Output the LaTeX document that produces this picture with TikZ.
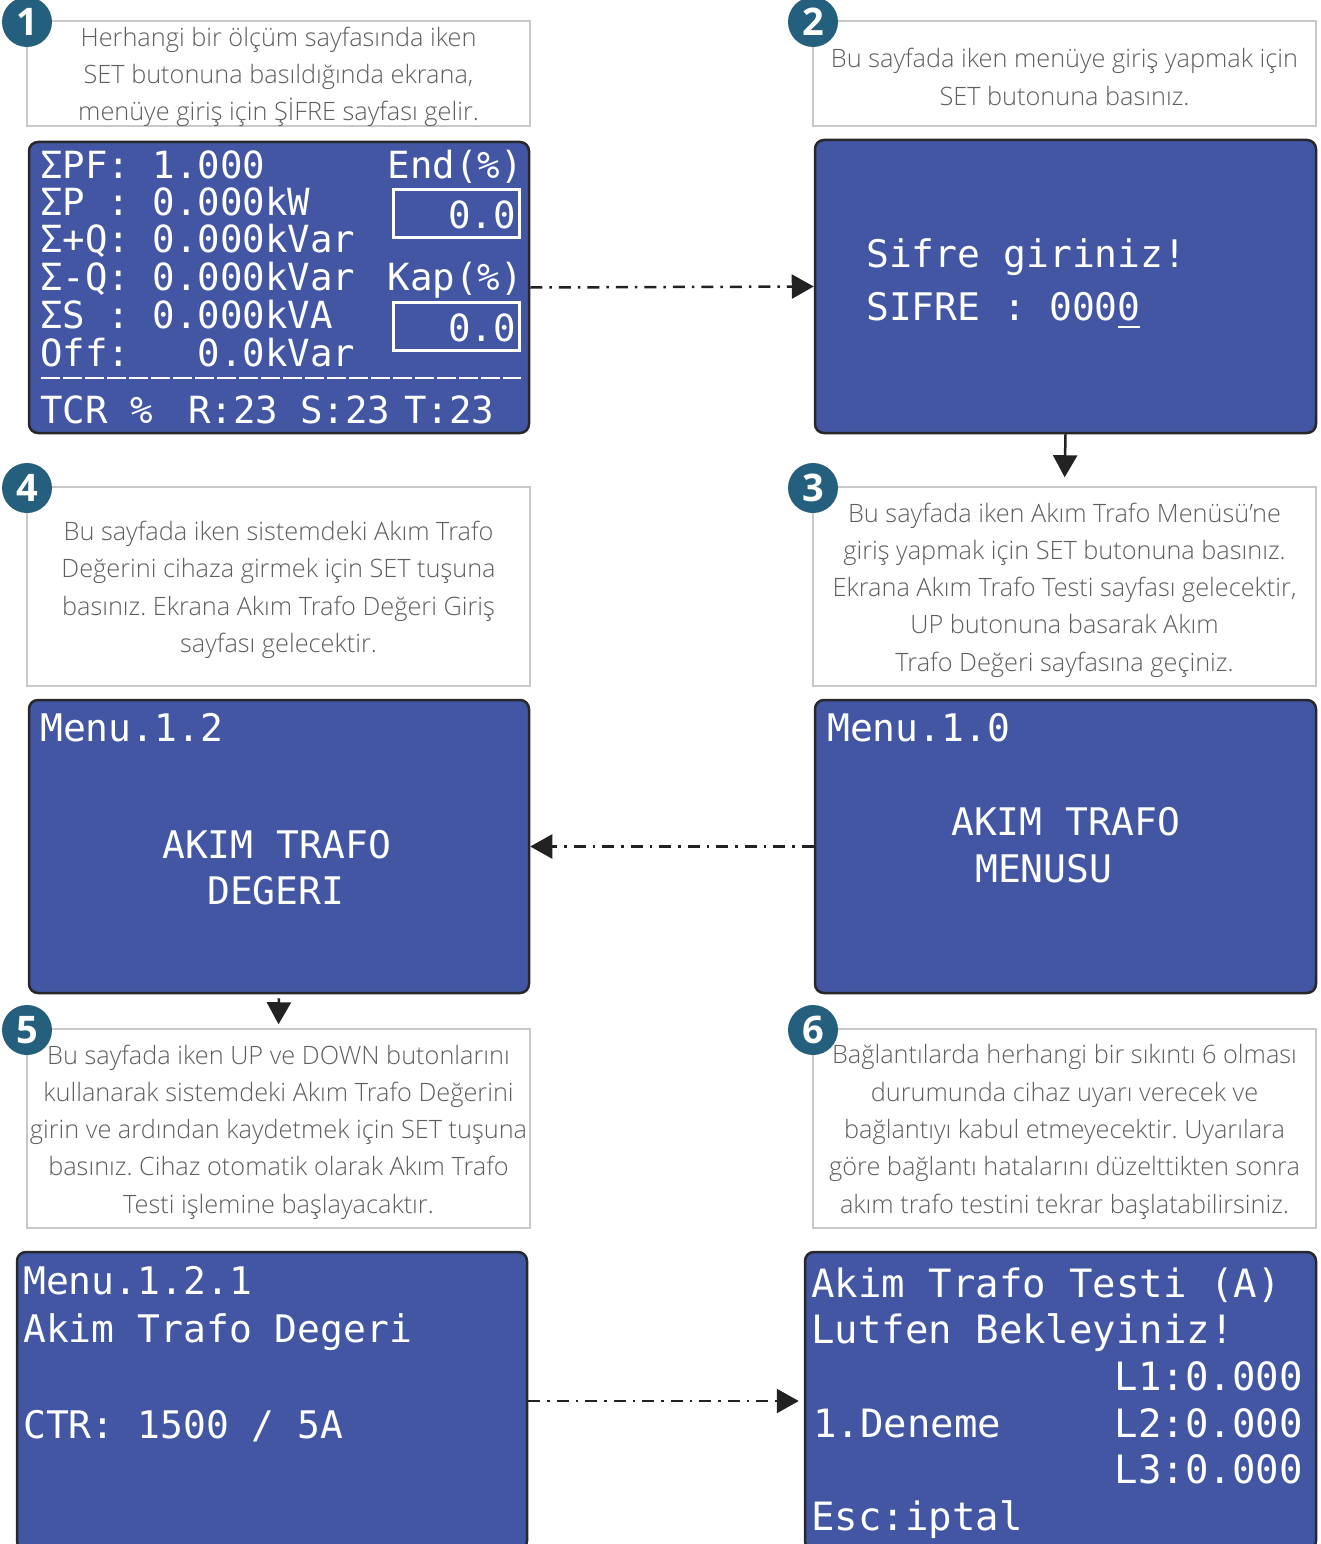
\documentclass[tikz,border=0pt]{standalone}
\usepackage{fontspec}
\setmainfont{Open Sans}[UprightFont=* Light, BoldFont=* Bold]
\newfontfamily\lcdfont{DejaVu Sans Mono}
\usetikzlibrary{arrows.meta}

\definecolor{lcdblue}{RGB}{66,86,164}
\definecolor{lcdedge}{RGB}{40,40,44}
\definecolor{badgeteal}{RGB}{36,96,125}
\definecolor{notegray}{RGB}{200,200,200}
\definecolor{textgray}{RGB}{95,95,95}
\definecolor{arrowink}{RGB}{34,34,34}

% blinking cursor under a digit
\newcommand\lcdcursor[1]{\rlap{\rule[-8pt]{22.5pt}{2.5pt}}#1}

\tikzset{
  note/.style={draw=notegray, line width=1.5pt, fill=white, inner sep=0pt,
    minimum width=503pt},
  notetext/.style={inner sep=0pt, align=center, text=textgray, yshift=-3.5pt,
    font=\frenchspacing\fontsize{25.3}{37.3}\selectfont},
  lcd/.style={draw=lcdedge, line width=2.5pt, fill=lcdblue,
    rounded corners=9pt, inner sep=0pt},
  lcdtxt/.style={text=white, inner sep=0pt, anchor=base west,
    font=\lcdfont\fontsize{38}{38}\selectfont},
  lcdsmall/.style={lcdtxt, font=\lcdfont\fontsize{37.4}{37.4}\selectfont},
  lcdbig/.style={lcdtxt, font=\lcdfont\fontsize{39}{39}\selectfont},
  valbox/.style={draw=white, line width=3pt, minimum width=126pt,
    minimum height=48pt, inner sep=0pt},
  badge/.style={circle, fill=badgeteal, text=white, minimum size=50pt,
    inner sep=0pt, font=\bfseries\fontsize{38}{38}\selectfont},
  flow/.style={draw=arrowink, line width=2.5pt,
    dash pattern=on 12pt off 7pt on 2.5pt off 7pt,
    -{Triangle[length=22pt,width=24pt]}},
  downflow/.style={draw=arrowink, line width=2.5pt,
    -{Triangle[length=22pt,width=24pt]}},
}

\begin{document}
\begin{tikzpicture}[x=1pt,y=-1pt]
\clip (0,0) rectangle (1321,1544);
\fill[white] (0,0) rectangle (1321,1544);

% ---------- step 1 ----------
\node[note, minimum height=105pt] (n1) at (278.5,73.5) {};
\node[notetext] (n1t) at (n1.center)
  {Herhangi bir ölçüm sayfasında iken\\SET butonuna basıldığında ekrana,\\menüye giriş için ŞİFRE sayfası gelir.};
\node[lcd, minimum width=500pt, minimum height=291pt] (s1) at (279,287.5) {};
\node[lcdsmall] (r1) at (40,178) {ΣPF: 1.000};
\node[lcdsmall] (r2) at (40,215) {ΣP : 0.000kW};
\node[lcdsmall] (r3) at (40,252) {Σ+Q: 0.000kVar};
\node[lcdsmall] (r4) at (40,290) {Σ-Q: 0.000kVar};
\node[lcdsmall] (r5) at (40,328) {ΣS : 0.000kVA};
\node[lcdsmall] (r6) at (40,366) {Off:\ \ \ 0.0kVar};
\node[lcdsmall, anchor=base east] (endl) at (523,178) {End(\%)};
\node[lcdsmall, anchor=base east] (kapl) at (523,290) {Kap(\%)};
\node[valbox] (vb1) at (456.5,213.5) {};
\node[valbox] (vb2) at (456.5,326.5) {};
\node[lcdsmall, anchor=base east] (v1) at (516,228) {0.0};
\node[lcdsmall, anchor=base east] (v2) at (516,341) {0.0};
\draw[white, line width=2.5pt, dash pattern=on 19pt off 3pt] (41,378) -- (521,378);
\node[lcdsmall] (t1) at (40,423) {TCR \%};
\node[lcdsmall] (t2) at (188,423) {R:23};
\node[lcdsmall] (t3) at (300,423) {S:23};
\node[lcdsmall] (t4) at (404,423) {T:23};

% ---------- step 2 ----------
\node[note, minimum height=105pt] (n2) at (1064.5,73.5) {};
\node[notetext] (n2t) at (n2.center)
  {Bu sayfada iken menüye giriş yapmak için\\SET butonuna basınız.};
\node[lcd, minimum width=501pt, minimum height=293pt] (s2) at (1065.5,286.5) {};
\node[lcdtxt] (pw1) at (866,267) {Sifre giriniz!};
\node[lcdtxt] (pw2) at (866,320) {SIFRE : 000\lcdcursor{0}};

% ---------- step 3 ----------
\node[note, minimum height=199pt] (n3) at (1064.5,586.5) {};
\node[notetext] (n3t) at (n3.center)
  {Bu sayfada iken Akım Trafo Menüsü’ne\\giriş yapmak için SET butonuna basınız.\\Ekrana Akım Trafo Testi sayfası gelecektir,\\UP butonuna basarak Akım\\Trafo Değeri sayfasına geçiniz.};
\node[lcd, minimum width=501pt, minimum height=293pt] (m10) at (1065.5,846.5) {};
\node[lcdtxt] (m10a) at (827,741) {Menu.1.0};
\node[lcdtxt] (m10b) at (951,835) {AKIM TRAFO};
\node[lcdtxt] (m10c) at (975,882) {MENUSU};

% ---------- step 4 ----------
\node[note, minimum height=199pt] (n4) at (278.5,586.5) {};
\node[notetext] (n4t) at (n4.center)
  {Bu sayfada iken sistemdeki Akım Trafo\\Değerini cihaza girmek için SET tuşuna\\basınız. Ekrana Akım Trafo Değeri Giriş\\sayfası gelecektir.};
\node[lcd, minimum width=500pt, minimum height=293pt] (m12) at (279,846.5) {};
\node[lcdtxt] (m12a) at (40,741) {Menu.1.2};
\node[lcdtxt] (m12b) at (162,858) {AKIM TRAFO};
\node[lcdtxt] (m12c) at (207,904) {DEGERI};

% ---------- step 5 ----------
\node[note, minimum height=199pt] (n5) at (278.5,1128.5) {};
\node[notetext] (n5t) at (n5.center)
  {Bu sayfada iken UP ve DOWN butonlarını\\kullanarak sistemdeki Akım Trafo Değerini\\girin ve ardından kaydetmek için SET tuşuna\\basınız. Cihaz otomatik olarak Akım Trafo\\Testi işlemine başlayacaktır.};
\node[lcd, minimum width=510pt, minimum height=298pt] (s5) at (272,1401) {};
\node[lcdtxt] (c1) at (23,1294) {Menu.1.2.1};
\node[lcdtxt] (c2) at (23,1342) {Akim Trafo Degeri};
\node[lcdtxt] (c3) at (23,1438) {CTR: 1500 / 5A};

% ---------- step 6 ----------
\node[note, minimum height=199pt] (n6) at (1064.5,1128.5) {};
\node[notetext] (n6t) at (n6.center)
  {Bağlantılarda herhangi bir sıkıntı 6 olması\\durumunda cihaz uyarı verecek ve\\bağlantıyı kabul etmeyecektir. Uyarılara\\göre bağlantı hatalarını düzelttikten sonra\\akım trafo testini tekrar başlatabilirsiniz.};
\node[lcd, minimum width=511pt, minimum height=298pt] (s6) at (1060.5,1401) {};
\node[lcdbig] (d1) at (811,1297) {Akim Trafo Testi (A)};
\node[lcdbig] (d2) at (811,1343) {Lutfen Bekleyiniz!};
\node[lcdbig, anchor=base east] (d3) at (1303,1390) {L1:0.000};
\node[lcdbig] (d4) at (813,1437) {1.Deneme};
\node[lcdbig, anchor=base east] (d5) at (1303,1437) {L2:0.000};
\node[lcdbig, anchor=base east] (d6) at (1303,1483) {L3:0.000};
\node[lcdbig] (d7) at (811,1530) {Esc:iptal};

% ---------- connectors ----------
\draw[flow] (s1.east) -- (s2.west);
\draw[downflow, shorten >=9pt] (s2.south) -- (n3.north);
\draw[flow] (m10.west) -- (m12.east);
\draw[downflow, shorten <=4pt, shorten >=4pt] (m12.south) -- (n5.north);
\draw[flow, shorten >=5pt] (s5.east) -- (s6.west);

% ---------- step badges ----------
\node[badge] (b1) at (27,22) {1};
\node[badge] (b2) at (813,22) {2};
\node[badge] (b3) at (813,488) {3};
\node[badge] (b4) at (27,488) {4};
\node[badge] (b5) at (27,1030) {5};
\node[badge] (b6) at (813,1030) {6};
\end{tikzpicture}
\end{document}
